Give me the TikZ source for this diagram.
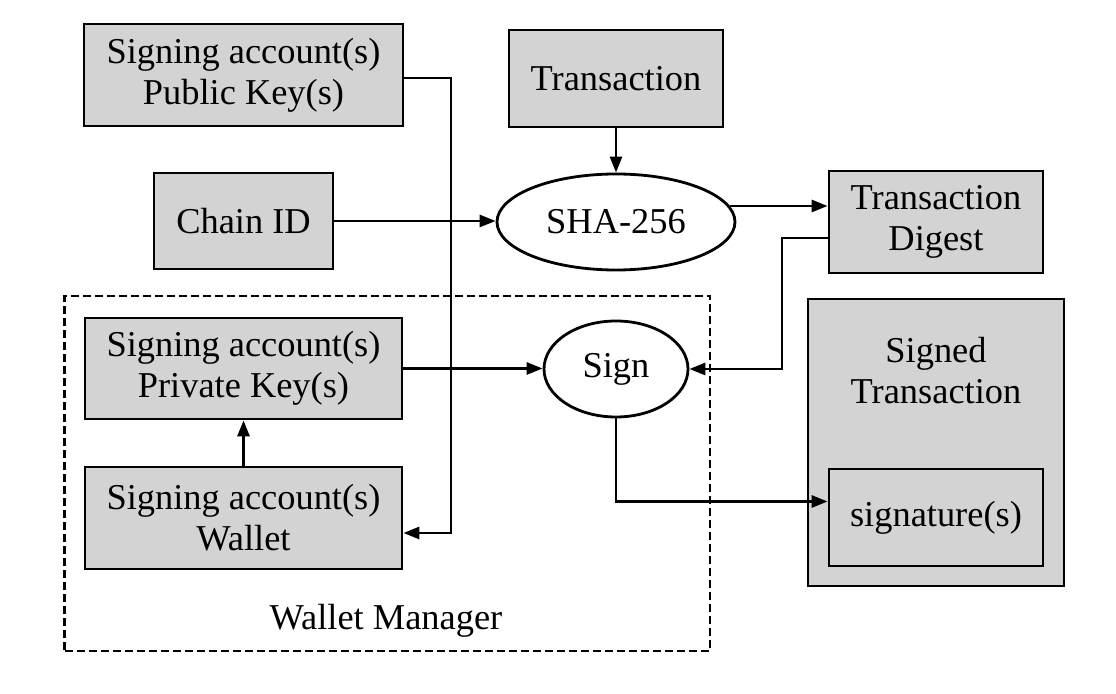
\documentclass[tikz,border=0pt]{standalone}
\usepackage{fontspec}
\setmainfont{Liberation Serif}
\usepackage{tikz}
\usetikzlibrary{positioning, arrows.meta, calc, shapes.geometric}

\definecolor{boxgray}{RGB}{211,211,211}

\begin{document}
\begin{tikzpicture}[x=0.5pt, y=-0.5pt,
        font=\fontsize{18.2}{20.5}\selectfont,
        every node/.style={inner sep=0pt},
        line width=1.4pt,
        >={Triangle[length=8pt, width=6pt]},
        greybox/.style={draw, fill=boxgray, align=center},
        oval/.style={draw, ellipse, fill=white, align=center}]

            \useasboundingbox (0,0) rectangle (1116,694);

            % wallet manager
            \node[draw, dash pattern=on 4pt off 2pt, line width=1.2pt,
                minimum width=322.75pt, minimum height=177.5pt] (manager) at (387.25,473.5) {};
            \node[anchor=base] (managerlabel) at (386,630) {Wallet Manager};

            % inputs
            \node[greybox, minimum width=159.5pt, minimum height=51pt] (pubkey) at (243.5,75) {Signing account(s)\\Public Key(s)};
            \node[greybox, minimum width=107pt, minimum height=48.5pt] (trans) at (616,78.5) {Transaction};
            \node[greybox, minimum width=89.5pt, minimum height=48pt] (chain) at (243.5,221) {Chain ID};
            \node[oval, minimum width=119pt, minimum height=48pt] (sha) at (616,222) {SHA-256};
            \node[greybox, minimum width=107pt, minimum height=51pt] (digest) at (936,222) {Transaction\\Digest};

            % keys in the wallet
            \node[greybox, minimum width=158.5pt, minimum height=50.5pt] (privkey) at (243.5,368.5) {Signing account(s)\\Private Key(s)};
            \node[greybox, minimum width=158.5pt, minimum height=51pt] (wallet) at (243.5,518) {Signing account(s)\\Wallet};
            \node[oval, minimum width=72pt, minimum height=48pt] (sign) at (616,369) {Sign};

            % output
            \node[greybox, minimum width=128pt, minimum height=143.5pt] (signed) at (936,442.5) {};
            \node[align=center] (signedlabel) at (936,371) {Signed\\Transaction};
            \node[greybox, minimum width=107pt, minimum height=48.5pt] (sig) at (936,517.5) {signature(s)};

            \coordinate (pkturn) at (451,533);
            \coordinate (dgturn) at (782,369);

            % draw connectors
            \draw[->] ([yshift=-1.5pt]pubkey.east) -| (pkturn) -- (pkturn -| wallet.east);
            \draw[->] (chain.east) -- (chain.east -| sha.west);
            \draw[->] (trans.south) -- (sha.north);
            \draw[->] (sha.8) -- (sha.8 -| digest.west);
            \draw[->] ([yshift=-8pt]digest.west) -| (dgturn) -- (sign.east);
            \draw[->] (privkey.east) -- (privkey.east -| sign.west);
            \draw[->] (wallet.north) -- (privkey.south);
            \draw[->] (sign.south) |- ([yshift=8pt]sig.west);
        \end{tikzpicture}
\end{document}
